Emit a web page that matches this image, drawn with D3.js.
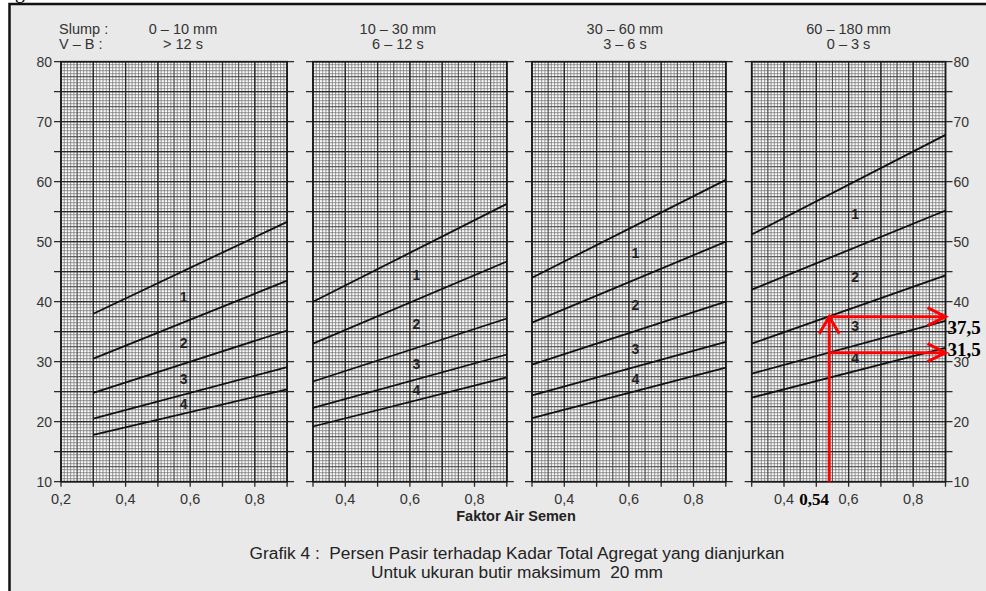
<!DOCTYPE html>
<html>
  <head>
    <meta charset="utf-8" />
    <script src="https://cdn.jsdelivr.net/npm/d3@7/dist/d3.min.js"></script>
    <style>
      body {
        margin: 0;
        background: white;
      }
      text {
        font-family: "Liberation Sans", Arial, sans-serif;
      }
    </style>
  </head>
  <body>
    <div id="chart"></div>
    <script>
      // chart values
      const slumpLabels = ["0 – 10 mm", "10 – 30 mm", "30 – 60 mm", "60 – 180 mm"];
      const vbLabels = ["> 12 s", "6 – 12 s", "3 – 6 s", "0 – 3 s"];
      const xDomains = [[0.2, 0.9], [0.3, 0.9], [0.3, 0.9], [0.3, 0.9]];
      const fasRange = [0.3, 0.9];
      // 5 boundary lines per panel, value at fas 0.3 and at fas 0.9
      const lineStart = [
        [38, 30.5, 24.8, 20.5, 17.8],
        [40, 33, 26.7, 22.3, 19.2],
        [44, 36.5, 29.5, 24.4, 20.6],
        [51.2, 42, 33, 28, 24]
      ];
      const lineEnd = [
        [53.3, 43.5, 35.2, 29.1, 25.4],
        [56.3, 46.7, 37.2, 31.2, 27.4],
        [60.3, 50, 40, 33.3, 29],
        [67.8, 55.2, 44.4, 36.8, 32.3]
      ];
      const zones = ["1", "2", "3", "4"];
      const zoneLabelX = [0.58, 0.62, 0.62, 0.62];
      const xTicks = [[0.2, 0.4, 0.6, 0.8], [0.4, 0.6, 0.8], [0.4, 0.6, 0.8], [0.4, 0.6, 0.8]];
      const yTicks = [10, 20, 30, 40, 50, 60, 70, 80];
      // red reading example on the last panel
      const readFas = 0.54;
      const readValues = [37.5, 31.5];

      const fmt = v => d3.format(".1f")(v).replace(".", ",");
      const fmt2 = v => String(v).replace(".", ",");

      const W = 986, H = 591;
      const svg = d3.select("#chart").append("svg").attr("width", W).attr("height", H);

      // page frame
      svg.append("rect").attr("width", W).attr("height", H).attr("fill", "white");
      svg.append("rect")
        .attr("x", 9.5).attr("y", 4).attr("width", W + 10).attr("height", H + 10)
        .attr("fill", "#e9e9e9").attr("stroke", "#111").attr("stroke-width", 2.5);
      svg.append("text").attr("x", 15).attr("y", -2)
        .style("font-family", "Liberation Serif, serif").style("font-size", "20px")
        .text("g");

      const y = d3.scaleLinear().domain([10, 80]).range([481.7, 61.7]);
      const unit = 323;
      const panelLeft = [61, 313, 532, 751.7];
      const fs = "14.5px";

      const steps = (a, b, s) => d3.range(Math.round(a / s), Math.round(b / s) + 1).map(k => +(k * s).toFixed(4));

      xDomains.forEach((dom, i) => {
        const x = d3.scaleLinear().domain(dom).range([panelLeft[i], panelLeft[i] + unit * (dom[1] - dom[0])]);
        const g = svg.append("g").attr("class", "panel");
        const [x0, x1] = x.range();

        g.append("rect").attr("x", x0).attr("y", y(80)).attr("width", x1 - x0).attr("height", y(10) - y(80))
          .attr("fill", "#fbfbfb");

        // fine grid
        const fx = steps(dom[0], dom[1], 0.01), fy = steps(10, 80, 0.5);
        g.selectAll(".fx").data(fx).join("line")
          .attr("x1", d => x(d)).attr("x2", d => x(d)).attr("y1", y(10)).attr("y2", y(80))
          .attr("stroke", "#747474").attr("stroke-width", 0.75);
        g.selectAll(".fy").data(fy).join("line")
          .attr("x1", x0).attr("x2", x1).attr("y1", d => y(d)).attr("y2", d => y(d))
          .attr("stroke", "#747474").attr("stroke-width", 0.75);

        // medium grid
        g.selectAll(".mx").data(steps(dom[0], dom[1], 0.05)).join("line")
          .attr("x1", d => x(d)).attr("x2", d => x(d)).attr("y1", y(10)).attr("y2", y(80))
          .attr("stroke", "#4a4a4a").attr("stroke-width", 0.9);
        g.selectAll(".my").data(steps(10, 80, 2.5)).join("line")
          .attr("x1", x0).attr("x2", x1).attr("y1", d => y(d)).attr("y2", d => y(d))
          .attr("stroke", "#4a4a4a").attr("stroke-width", 0.9);

        // major grid, horizontal ones stick out of the panel
        g.selectAll(".Mx").data(steps(dom[0], dom[1], 0.1)).join("line")
          .attr("x1", d => x(d)).attr("x2", d => x(d)).attr("y1", y(10) + 5).attr("y2", y(80))
          .attr("stroke", "#2a2a2a").attr("stroke-width", 1.3);
        g.selectAll(".My").data(steps(10, 80, 5)).join("line")
          .attr("x1", x0 - 7).attr("x2", x1 + 7).attr("y1", d => y(d)).attr("y2", d => y(d))
          .attr("stroke", "#2a2a2a").attr("stroke-width", 1.3);

        g.append("rect").attr("x", x0).attr("y", y(80)).attr("width", x1 - x0).attr("height", y(10) - y(80))
          .attr("fill", "none").attr("stroke", "#1a1a1a").attr("stroke-width", 1.7);

        // boundary lines
        g.selectAll(".zone").data(lineStart[i]).join("line")
          .attr("x1", x(fasRange[0])).attr("x2", x(fasRange[1]))
          .attr("y1", d => y(d)).attr("y2", (d, j) => y(lineEnd[i][j]))
          .attr("stroke", "#111").attr("stroke-width", 1.8);

        // zone numbers sit between two neighbouring lines
        const at = (j, f) => lineStart[i][j] + (lineEnd[i][j] - lineStart[i][j]) * (f - fasRange[0]) / (fasRange[1] - fasRange[0]);
        g.selectAll(".zl").data(zones).join("text")
          .attr("x", x(zoneLabelX[i]))
          .attr("y", (d, j) => y((at(j, zoneLabelX[i]) + at(j + 1, zoneLabelX[i])) / 2))
          .attr("dy", "0.36em").attr("text-anchor", "middle")
          .style("font-size", "14px").style("font-weight", "bold").attr("fill", "#222")
          .text(d => d);

        // x tick labels
        g.selectAll(".xt").data(xTicks[i]).join("text")
          .attr("x", d => x(d)).attr("y", y(10) + 22).attr("text-anchor", "middle")
          .style("font-size", fs).attr("fill", "#333")
          .text(fmt);

        // header
        const cx = i === 0 ? 183 : (x0 + x1) / 2 - (i === 1 ? 12 : i === 2 ? 4 : 0);
        g.append("text").attr("x", cx).attr("y", 34).attr("text-anchor", "middle")
          .style("font-size", fs).attr("fill", "#333").text(slumpLabels[i]);
        g.append("text").attr("x", cx).attr("y", 49).attr("text-anchor", "middle")
          .style("font-size", fs).attr("fill", "#333").text(vbLabels[i]);

        if (i === 0) {
          g.selectAll(".yl").data(yTicks).join("text")
            .attr("x", x0 - 9).attr("y", d => y(d)).attr("dy", "0.36em").attr("text-anchor", "end")
            .style("font-size", "14px").attr("fill", "#333").text(d => d);
          g.append("text").attr("x", 59).attr("y", 34).style("font-size", fs).attr("fill", "#333").text("Slump  :");
          g.append("text").attr("x", 59).attr("y", 49).style("font-size", fs).attr("fill", "#333").text("V – B   :");
        }
        if (i === 3) {
          g.selectAll(".yr").data(yTicks).join("text")
            .attr("x", x1 + 8).attr("y", d => y(d)).attr("dy", "0.36em")
            .style("font-size", "14px").attr("fill", "#333").text(d => d);

          // red reading arrows
          const red = svg.append("g").attr("stroke", "#ff0000").attr("stroke-width", 3).attr("fill", "none");
          const topY = y(readValues[0]);
          red.append("line").attr("x1", x(readFas)).attr("x2", x(readFas)).attr("y1", y(10)).attr("y2", topY);
          red.append("path").attr("d", `M${x(readFas) - 10},${topY + 17}L${x(readFas)},${topY}L${x(readFas) + 10},${topY + 17}`);
          readValues.forEach(v => {
            red.append("line").attr("x1", x(readFas)).attr("x2", x1).attr("y1", y(v)).attr("y2", y(v));
            red.append("path").attr("d", `M${x1 - 18},${y(v) - 9}L${x1},${y(v)}L${x1 - 18},${y(v) + 9}`);
          });
          svg.selectAll(".rv").data(readValues).join("text")
            .attr("x", x1 + 2).attr("y", (d, j) => y(d) + (j === 0 ? 17 : 3))
            .style("font-family", "Liberation Serif, serif").style("font-size", "19px").style("font-weight", "bold")
            .text(fmt2);
          svg.append("text").attr("x", x(readFas) - 30).attr("y", y(10) + 23)
            .style("font-family", "Liberation Serif, serif").style("font-size", "17px").style("font-weight", "bold")
            .text(fmt2(readFas));
        }
      });

      svg.append("text").attr("x", 516).attr("y", 521).attr("text-anchor", "middle")
        .style("font-size", "14.5px").style("font-weight", "bold").attr("fill", "#222")
        .text("Faktor Air Semen");
      svg.append("text").attr("x", 517).attr("y", 559).attr("text-anchor", "middle")
        .style("font-size", "17.3px").attr("fill", "#222").attr("xml:space", "preserve")
        .text("Grafik 4 :  Persen Pasir terhadap Kadar Total Agregat yang dianjurkan");
      svg.append("text").attr("x", 517).attr("y", 578).attr("text-anchor", "middle")
        .style("font-size", "17.3px").attr("fill", "#222").attr("xml:space", "preserve")
        .text("Untuk ukuran butir maksimum  20 mm");
    </script>
  </body>
</html>
